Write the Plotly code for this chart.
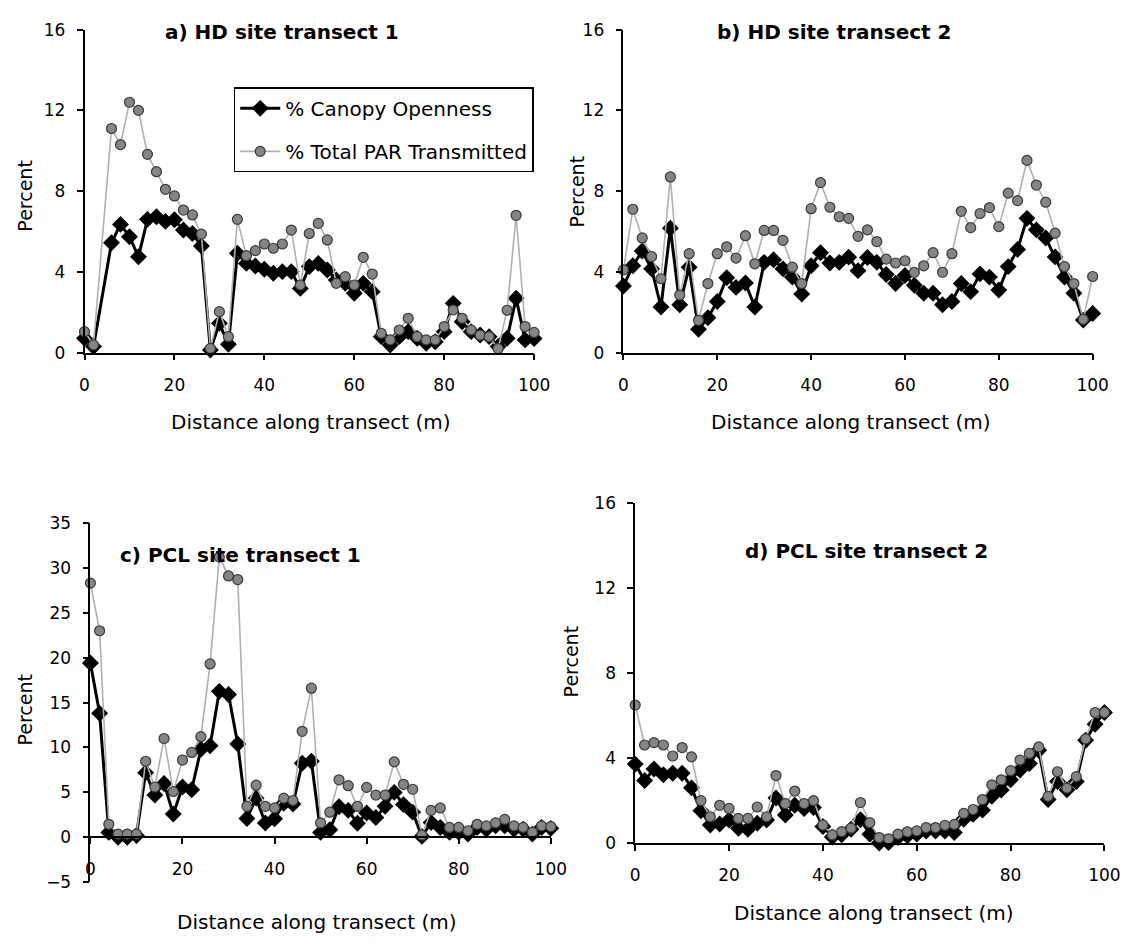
import plotly.graph_objects as go

# Sampling points along each 100 m transect (every 2 m)
dist = list(range(0, 101, 2))
dist_a = [d for d in dist if d != 4]  # no reading at 4 m on HD transect 1

# a) HD site transect 1
canopy_a = [0.71, 0.30, 5.44, 6.35, 5.74, 4.75, 6.60, 6.73, 6.50, 6.58, 6.07, 5.90, 5.28,
            0.13, 1.45, 0.41, 4.92, 4.42, 4.29, 4.13, 3.93, 4.01, 4.01, 3.18, 4.26, 4.42,
            4.09, 3.60, 3.43, 2.94, 3.43, 3.02, 0.79, 0.38, 0.79, 1.04, 0.71, 0.46, 0.54,
            1.04, 2.44, 1.53, 1.04, 0.87, 0.79, 0.30, 0.71, 2.69, 0.63, 0.70]
par_a = [1.04, 0.38, 11.10, 10.30, 12.40, 12.00, 9.82, 8.96, 8.09, 7.76, 7.06, 6.82, 5.87,
         0.21, 2.03, 0.79, 6.60, 4.80, 5.05, 5.38, 5.17, 5.38, 6.07, 3.35, 5.90, 6.40,
         5.58, 3.43, 3.76, 3.35, 4.72, 3.89, 0.96, 0.63, 1.12, 1.70, 0.79, 0.63, 0.63,
         1.29, 2.11, 1.70, 1.12, 0.87, 0.79, 0.20, 2.10, 6.80, 1.29, 1.00]

# b) HD site transect 2
canopy_b = [3.30, 4.30, 5.03, 4.15, 2.26, 6.16, 2.37, 4.23, 1.16, 1.73, 2.53, 3.71, 3.23,
            3.45, 2.26, 4.47, 4.60, 4.15, 3.74, 2.90, 4.30, 4.95, 4.44, 4.47, 4.73, 4.06,
            4.71, 4.47, 3.87, 3.42, 3.82, 3.34, 2.94, 2.94, 2.37, 2.53, 3.42, 3.02, 3.90,
            3.74, 3.10, 4.26, 5.11, 6.65, 6.08, 5.68, 4.74, 3.74, 2.94, 1.61, 1.94]
par_b = [4.10, 7.10, 5.68, 4.76, 3.66, 8.70, 2.85, 4.90, 1.60, 3.42, 4.90, 5.24, 4.68,
         5.79, 4.40, 6.05, 6.05, 5.56, 4.23, 3.42, 7.13, 8.42, 7.20, 6.73, 6.65, 5.76,
         6.08, 5.50, 4.63, 4.44, 4.55, 3.98, 4.30, 4.95, 3.98, 4.90, 7.00, 6.19, 6.89,
         7.18, 6.24, 7.90, 7.53, 9.52, 8.30, 7.45, 5.92, 4.26, 3.42, 1.65, 3.77]

# c) PCL site transect 1
canopy_c = [19.40, 13.80, 0.55, 0.00, 0.00, 0.20, 7.20, 4.70, 6.00, 2.60, 5.60, 5.30, 9.80,
            10.20, 16.25, 15.90, 10.40, 2.10, 4.36, 1.60, 2.07, 3.80, 3.70, 8.25, 8.47,
            0.55, 0.84, 3.40, 3.00, 1.56, 2.70, 2.20, 3.45, 5.00, 3.64, 2.80, 0.10, 1.64,
            1.10, 0.55, 0.55, 0.36, 1.10, 0.90, 1.27, 1.27, 0.90, 0.90, 0.36, 1.10, 1.00]
par_c = [28.30, 23.00, 1.45, 0.36, 0.36, 0.36, 8.47, 5.60, 11.00, 5.10, 8.60, 9.45, 11.20,
         19.30, 31.20, 29.10, 28.70, 3.45, 5.80, 3.45, 3.27, 4.36, 4.10, 11.80, 16.60,
         1.60, 2.80, 6.40, 5.75, 3.45, 5.56, 4.70, 4.70, 8.40, 5.90, 5.35, 0.25, 3.00,
         3.27, 1.10, 1.10, 0.73, 1.45, 1.27, 1.60, 2.00, 1.27, 1.10, 0.55, 1.27, 1.20]

# d) PCL site transect 2
canopy_d = [3.72, 2.95, 3.49, 3.22, 3.29, 3.29, 2.60, 1.52, 0.85, 0.90, 1.09, 0.70, 0.65,
            0.93, 1.09, 2.12, 1.32, 1.78, 1.63, 1.67, 0.78, 0.28, 0.39, 0.65, 1.10, 0.42,
            0.00, 0.03, 0.26, 0.34, 0.42, 0.57, 0.57, 0.57, 0.50, 1.12, 1.35, 1.55, 2.20,
            2.50, 2.98, 3.44, 3.75, 4.37, 2.05, 2.90, 2.51, 2.90, 4.84, 5.60, 6.15]
par_d = [6.50, 4.62, 4.73, 4.62, 4.10, 4.50, 4.06, 2.00, 1.24, 1.78, 1.63, 1.16, 1.16,
         1.70, 1.24, 3.18, 1.86, 2.45, 1.86, 2.00, 0.85, 0.39, 0.54, 0.70, 1.91, 0.96,
         0.26, 0.20, 0.42, 0.53, 0.57, 0.73, 0.73, 0.84, 0.88, 1.40, 1.58, 2.05, 2.74,
         2.98, 3.41, 3.91, 4.22, 4.53, 2.20, 3.36, 2.59, 3.13, 4.91, 6.15, 6.15]

titles = ["a) HD site transect 1", "b) HD site transect 2",
          "c) PCL site transect 1", "d) PCL site transect 2"]
x_ticks = [0, 20, 40, 60, 80, 100]
y_ticks_hd = [0, 4, 8, 12, 16]
y_ticks_c = [-5, 0, 5, 10, 15, 20, 25, 30, 35]

W, H = 1144, 949
FONT = "DejaVu Sans"


def hx(p):
    return p / W


def vy(p):
    return 1 - p / H


# Plot-area boxes in pixels: left, right, top, bottom
boxes = [(81, 539, 20, 350), (630, 1108, 20, 350), (87, 556, 524, 891), (642, 1120, 504, 851)]
y_ranges = [[0, 16], [0, 16], [-5, 35], [0, 16]]
y_tick_sets = [y_ticks_hd, y_ticks_hd, y_ticks_c, y_ticks_hd]

series = [(dist_a, canopy_a, par_a), (dist, canopy_b, par_b),
          (dist, canopy_c, par_c), (dist, canopy_d, par_d)]

fig = go.Figure()

for i, (xs, can, par) in enumerate(series):
    ax = "" if i == 0 else str(i + 1)
    fig.add_trace(go.Scatter(
        x=xs, y=can, mode="lines+markers", name="% Canopy Openness",
        xaxis="x" + ax, yaxis="y" + ax, cliponaxis=False,
        line=dict(color="black", width=3),
        marker=dict(symbol="diamond", size=13, color="black"),
        showlegend=(i == 0), legendgroup="canopy"))
    fig.add_trace(go.Scatter(
        x=xs, y=par, mode="lines+markers", name="% Total PAR Transmitted",
        xaxis="x" + ax, yaxis="y" + ax, cliponaxis=False,
        line=dict(color="#b0b0b0", width=1.6),
        marker=dict(symbol="circle", size=10, color="#858585",
                    line=dict(color="#3a3a3a", width=1.2)),
        showlegend=(i == 0), legendgroup="par"))

axis_common = dict(showline=True, linecolor="black", linewidth=1.6, ticks="outside",
                   ticklen=6, tickwidth=1.5, tickcolor="black", showgrid=False,
                   zeroline=False, tickfont=dict(family=FONT, size=17, color="black"))

layout = dict(width=W, height=H, margin=dict(l=0, r=0, t=0, b=0),
              paper_bgcolor="white", plot_bgcolor="white",
              font=dict(family=FONT, color="black"))

for i, (l, r, t, b) in enumerate(boxes):
    ax = "" if i == 0 else str(i + 1)
    yr = y_ranges[i]
    xa = dict(axis_common, domain=[hx(l), hx(r)], range=[0, 100],
              tickvals=x_ticks, ticklabelstandoff=10)
    if i == 2:
        # x-axis crosses the y-axis at zero
        zero_px = t + (b - t) * (yr[1] - 0) / (yr[1] - yr[0])
        xa.update(anchor="free", position=vy(zero_px))
    else:
        xa.update(anchor="y" + ax)
    ya = dict(axis_common, domain=[vy(b), vy(t)], range=yr, tickvals=y_tick_sets[i],
              anchor="x" + ax, ticklabelstandoff=8)
    layout["xaxis" + ax] = xa
    layout["yaxis" + ax] = ya

fig.update_layout(**layout)

# Panel titles
title_pos = [(282, 22), (845, 22), (240, 557), (878, 553)]
for txt, (px, py) in zip(titles, title_pos):
    fig.add_annotation(text="<b>" + txt + "</b>", x=hx(px), y=vy(py), xref="paper",
                       yref="paper", showarrow=False, xanchor="center", yanchor="middle",
                       font=dict(family=FONT, size=20, color="black"))

# Axis titles
xlab_pos = [(312, 421), (862, 421), (318, 932), (885, 922)]
for px, py in xlab_pos:
    fig.add_annotation(text="Distance along transect (m)", x=hx(px), y=vy(py),
                       xref="paper", yref="paper", showarrow=False, xanchor="center",
                       yanchor="middle", font=dict(family=FONT, size=20, color="black"))
ylab_pos = [(20, 190), (583, 185), (20, 715), (577, 665)]
for px, py in ylab_pos:
    fig.add_annotation(text="Percent", x=hx(px), y=vy(py), xref="paper", yref="paper",
                       showarrow=False, textangle=-90, xanchor="center", yanchor="middle",
                       font=dict(family=FONT, size=19, color="black"))

fig.update_layout(legend=dict(
    x=hx(233), y=vy(79), xanchor="left", yanchor="top",
    bgcolor="white", bordercolor="black", borderwidth=1.5,
    font=dict(family=FONT, size=20, color="black"),
    traceorder="grouped", tracegroupgap=14, itemwidth=40))

fig.write_html("out.html")
